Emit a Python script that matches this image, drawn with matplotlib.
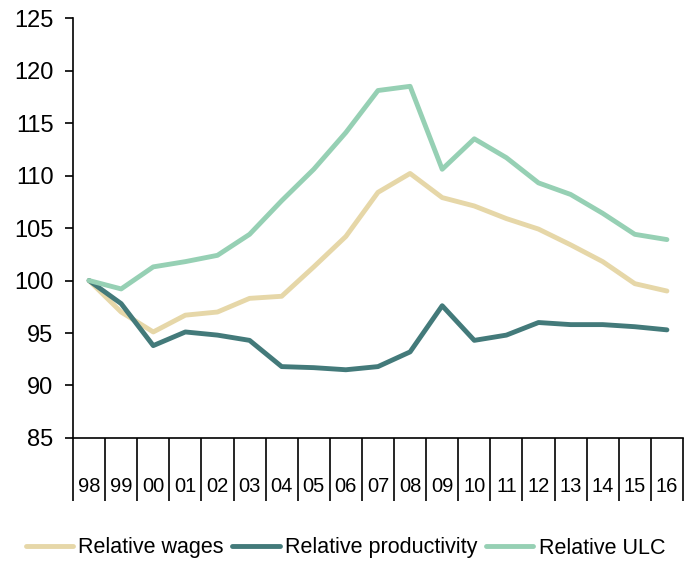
import numpy as np
import matplotlib
matplotlib.use("Agg")
import matplotlib.pyplot as plt

plt.rcParams['font.family'] = ['Liberation Sans', 'DejaVu Sans']

years = ['98', '99', '00', '01', '02', '03', '04', '05', '06', '07',
         '08', '09', '10', '11', '12', '13', '14', '15', '16']
wages = [100.0, 97.0, 95.1, 96.7, 97.0, 98.3, 98.5, 101.3, 104.2, 108.4,
         110.2, 107.9, 107.1, 105.9, 104.9, 103.4, 101.8, 99.7, 99.0]
productivity = [100.0, 97.8, 93.8, 95.1, 94.8, 94.3, 91.8, 91.7, 91.5, 91.8,
                93.2, 97.6, 94.3, 94.8, 96.0, 95.8, 95.8, 95.6, 95.3]
ulc = [100.0, 99.2, 101.3, 101.8, 102.4, 104.4, 107.6, 110.6, 114.1, 118.1,
       118.5, 110.6, 113.5, 111.7, 109.3, 108.2, 106.4, 104.4, 103.9]

fig = plt.figure(figsize=(6.84, 5.65), dpi=100)
ax = fig.add_axes([0.1067, 0.2248, 0.8918, 0.7432])

x = np.arange(len(years))
ax.plot(x, wages, color='#E6D7A8', lw=3.5, label='Relative wages', solid_capstyle='round')
ax.plot(x, productivity, color='#437A7A', lw=3.5, label='Relative productivity', solid_capstyle='round')
ax.plot(x, ulc, color='#96D0B4', lw=3.5, label='Relative ULC', solid_capstyle='round')

ax.set_xlim(-0.5, len(years) - 0.5)
ax.set_ylim(85, 125)
ax.set_yticks(np.arange(85, 126, 5))
ax.tick_params(axis='y', labelsize=17, length=6, width=1.2, direction='out', pad=8)

ax.set_xticks(x)
ax.set_xticklabels(years)
ax.set_xticks(np.arange(-0.5, len(years), 1), minor=True)
ax.tick_params(axis='x', which='major', length=0, labelsize=14.5, pad=28)
ax.tick_params(axis='x', which='minor', length=45, width=1.2, direction='out')

for s in ['top', 'right']:
    ax.spines[s].set_visible(False)
ax.spines['left'].set_linewidth(1.2)
ax.spines['bottom'].set_linewidth(1.2)

fig.legend(loc='center', bbox_to_anchor=(0.505, 1 - 548 / 565), ncol=3, frameon=False,
           fontsize=15.5, handlelength=2.2, handletextpad=0.25, columnspacing=0.4)

fig.savefig('out.png', dpi=100)
